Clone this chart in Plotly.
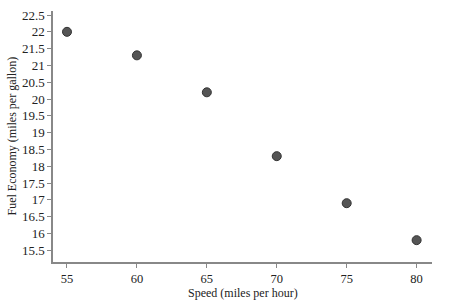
import plotly.graph_objects as go

speed = [55, 60, 65, 70, 75, 80]
economy = [22.0, 21.3, 20.2, 18.3, 16.9, 15.8]
x_ticks = [55, 60, 65, 70, 75, 80]
y_ticks = [15.5, 16, 16.5, 17, 17.5, 18, 18.5, 19, 19.5, 20, 20.5, 21, 21.5, 22, 22.5]
x_title = "Speed (miles per hour)"
y_title = "Fuel Economy (miles per gallon)"

font = dict(family="Liberation Serif, Times New Roman, serif", size=13, color="#222")
xtick_font = dict(family="Liberation Serif, Times New Roman, serif", size=12.5, color="#222")
title_font = dict(family="Liberation Serif, Times New Roman, serif", size=12, color="#222")

fig = go.Figure(go.Scatter(
    x=speed, y=economy, mode="markers",
    marker=dict(size=9, color="#555555", line=dict(color="#333333", width=1)),
))

axis_common = dict(
    showline=True, linecolor="#888888", linewidth=1.5,
    ticks="outside", ticklen=4, tickcolor="#888888", tickwidth=1,
    showgrid=False, zeroline=False,
)

fig.update_layout(
    width=460, height=300,
    margin=dict(l=53, r=28, t=8, b=38),
    paper_bgcolor="white", plot_bgcolor="white",
    showlegend=False,
    font=font,
    xaxis=dict(range=[54.0, 81.1], tickvals=x_ticks, ticktext=[str(v) for v in x_ticks],
               tickfont=xtick_font, **axis_common),
    yaxis=dict(range=[15.15, 22.62], tickvals=y_ticks, ticktext=[f"{v:g}" for v in y_ticks],
               tickfont=font, **axis_common),
    annotations=[
        dict(text=x_title, xref="paper", yref="paper", x=0.5, y=0, yshift=-31,
             showarrow=False, xanchor="center", yanchor="middle", font=title_font),
        dict(text=y_title, xref="paper", yref="paper", x=0, y=0.5, xshift=-42,
             showarrow=False, xanchor="center", yanchor="middle", textangle=-90, font=title_font),
    ],
)

fig.write_html("out.html")
